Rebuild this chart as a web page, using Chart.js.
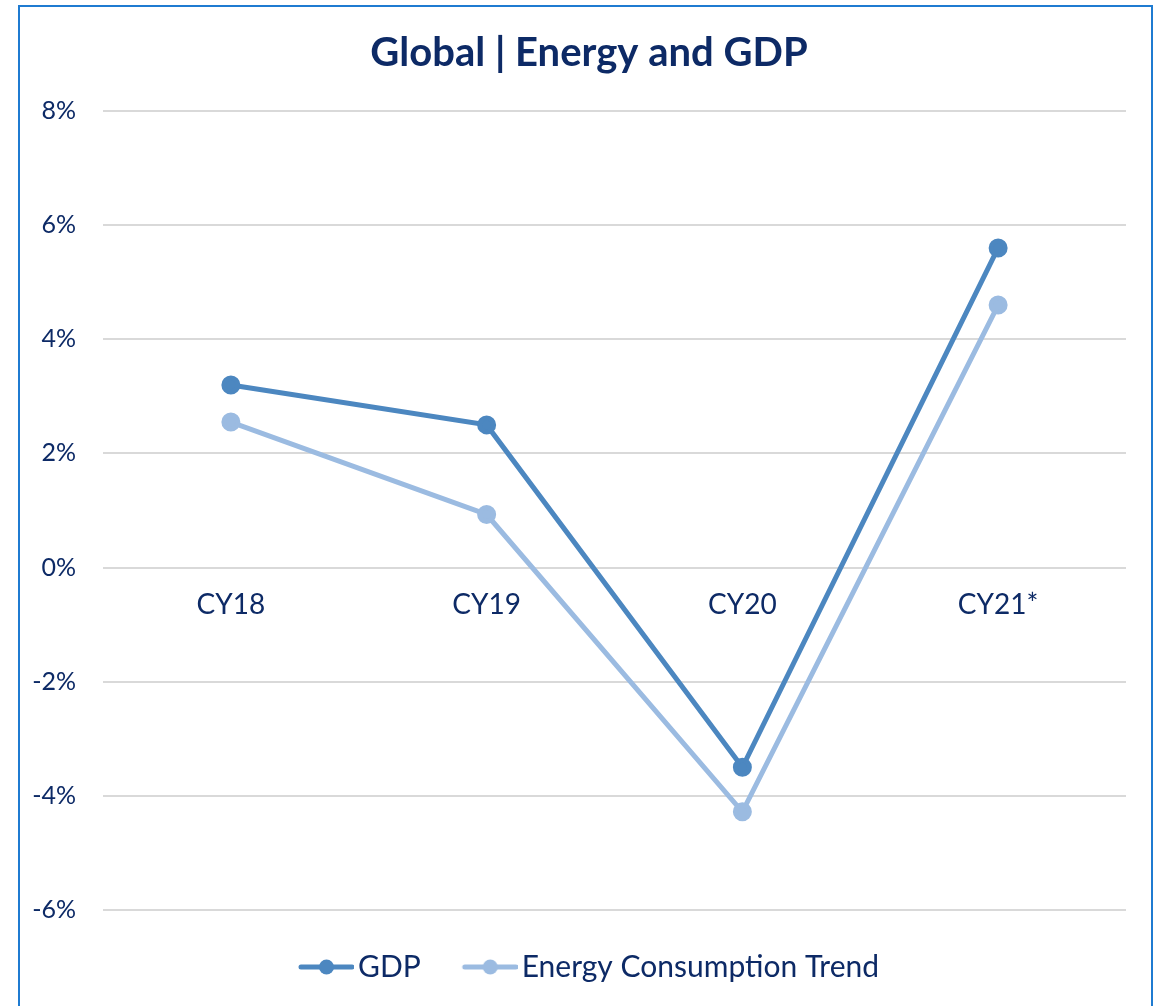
<!DOCTYPE html>
<html>
<head>
<meta charset="utf-8">
<script src="https://cdn.jsdelivr.net/npm/chart.js@4"></script>
<style>
  html, body { margin: 0; padding: 0; background: #fff; }
  #wrap { position: relative; width: 1160px; height: 1006px; overflow: hidden; }
  #frame { position: absolute; left: 18px; top: 5px; width: 1135px; height: 1040px;
           border: 2px solid #1f7bd1; box-sizing: border-box; }
  canvas { position: absolute; left: 0; top: 0; }
</style>
</head>
<body>
<div id="wrap">
  <div id="frame"></div>
  <canvas id="chart" width="1160" height="1006"></canvas>
</div>
<script>
// ── Data ─────────────────────────────────────────────────────────────────────
const CATEGORIES = ["CY18", "CY19", "CY20", "CY21*"];
const GDP        = [3.2, 2.5, -3.5, 5.6];
const ENERGY     = [2.55, 0.93, -4.28, 4.6];
const Y_MIN = -6, Y_MAX = 8, Y_STEP = 2;

// ── Style ────────────────────────────────────────────────────────────────────
const NAVY       = "#0d2a66";
const GDP_COLOR  = "#4c87c0";
const NRG_COLOR  = "#9bbbe1";
const FONT       = "Lato, 'Open Sans', sans-serif";

// Legend swatch: line with a dot in the middle (Excel style).
// Transparent margin on the left so the visible part sits closer to the text.
function lineMarker(color) {
  const c = document.createElement("canvas");
  c.width = 66; c.height = 18;
  const g = c.getContext("2d");
  g.strokeStyle = color; g.lineWidth = 5; g.lineCap = "round";
  g.beginPath(); g.moveTo(13, 9); g.lineTo(64, 9); g.stroke();
  g.fillStyle = color;
  g.beginPath(); g.arc(38.5, 9, 7.5, 0, Math.PI * 2); g.fill();
  return c;
}

new Chart(document.getElementById("chart").getContext("2d"), {
  type: "line",
  data: {
    labels: CATEGORIES,
    datasets: [
      { label: "GDP", data: GDP, borderColor: GDP_COLOR, backgroundColor: GDP_COLOR,
        borderWidth: 5, pointRadius: 7, pointHoverRadius: 7, tension: 0 },
      { label: "Energy Consumption Trend", data: ENERGY, borderColor: NRG_COLOR, backgroundColor: NRG_COLOR,
        borderWidth: 5, pointRadius: 7, pointHoverRadius: 7, tension: 0 },
    ],
  },
  options: {
    responsive: false,
    animation: false,
    layout: { padding: { left: 18, right: 0, top: 29, bottom: 14 } },
    plugins: {
      title: {
        display: true, text: "Global | Energy and GDP", color: NAVY,
        font: { family: FONT, size: 40, weight: "bold" }, padding: { top: 0, bottom: 34 },
      },
      legend: {
        position: "bottom",
        labels: {
          color: NAVY, font: { family: FONT, size: 30 }, padding: 42,
          usePointStyle: true, pointStyleWidth: 44, boxWidth: 44,
          generateLabels: chart => chart.data.datasets.map((ds, i) => ({
            text: ds.label, fontColor: NAVY, datasetIndex: i,
            pointStyle: lineMarker(ds.borderColor), lineWidth: 0, strokeStyle: "transparent",
          })),
        },
      },
      tooltip: { enabled: false },
    },
    scales: {
      x: {
        offset: true,
        position: { y: 0 },
        grid: { display: false, drawTicks: false },
        border: { display: false },
        ticks: { color: NAVY, font: { family: FONT, size: 28 }, padding: 21 },
      },
      y: {
        min: Y_MIN, max: Y_MAX,
        afterFit: s => { s.width = 85; },
        grid: { color: "#d9d9d9", lineWidth: 2, drawTicks: false },
        border: { display: false },
        ticks: { stepSize: Y_STEP, color: NAVY, padding: 27, font: { family: FONT, size: 25 },
                 callback: v => v + "%" },
      },
      // empty right-hand strip so title and legend centre on the whole frame
      yRight: {
        position: "right", min: 0, max: 1,
        afterFit: s => { s.width = 34; },
        grid: { display: false, drawTicks: false },
        border: { display: false },
        ticks: { display: false },
      },
    },
  },
});
</script>
</body>
</html>
